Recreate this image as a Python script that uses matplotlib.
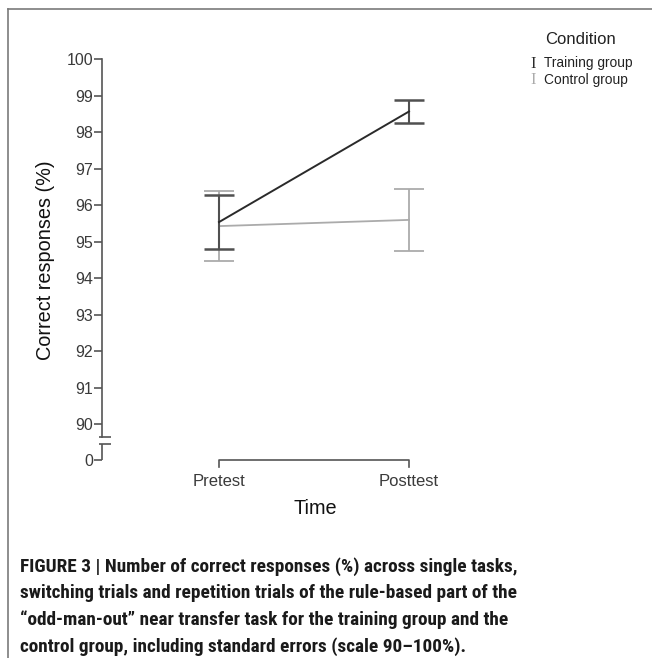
import matplotlib
matplotlib.use("Agg")
import matplotlib.pyplot as plt
from matplotlib.lines import Line2D
from matplotlib import font_manager

# ---- data ----
time_labels = ["Pretest", "Posttest"]
training_mean = [95.54, 98.57]
training_se = [0.745, 0.31]
control_mean = [95.43, 95.60]
control_se = [0.96, 0.86]
y_ticks = [90, 91, 92, 93, 94, 95, 96, 97, 98, 99, 100]
legend_labels = ["Training group", "Control group"]
caption_lines = [
    "FIGURE 3 | Number of correct responses (%) across single tasks,",
    "switching trials and repetition trials of the rule-based part of the",
    "\u201codd-man-out\u201d near transfer task for the training group and the",
    "control group, including standard errors (scale 90\u2013100%).",
]

W, H = 652, 658
DPI = 100
fig = plt.figure(figsize=(W / DPI, H / DPI), dpi=DPI)

def fx(px):
    return px / W

def fy(py):
    return 1 - py / H

# axes placement (pixel coordinates of reference)
ax_left, ax_right, ax_top, ax_bot = 102, 480, 50, 470
ax = fig.add_axes([fx(ax_left), fy(ax_bot), (ax_right - ax_left) / W, (ax_bot - ax_top) / H])
px_per_unit = 36.5
y100 = 59.3
ax.set_ylim(100 - (ax_bot - y100) / px_per_unit, 100 + (y100 - ax_top) / px_per_unit)
x_pre = 219
x_px_per = 190
ax.set_xlim(-(x_pre - ax_left) / x_px_per, (ax_right - x_pre) / x_px_per)
ax.patch.set_alpha(0)

def yval(py):
    return 100 - (py - y100) / px_per_unit

sans = ["Liberation Sans", "DejaVu Sans"]
tick_color = "#3a3a3a"
spine_color = "#555555"

# break mapping: "0" is placed just below the break
zero_pos = yval(460)
brk_hi = yval(437)
brk_lo = yval(444)

xs = list(range(len(time_labels)))
dark = "#2a2a2a"
dark_err = "#505050"
light = "#ababab"

# control group
ax.errorbar(xs, control_mean, yerr=control_se, color=light, lw=1.3,
            ecolor=light, elinewidth=1.3, capsize=10.5, capthick=1.3, zorder=2)
# training group
ax.errorbar(xs, training_mean, yerr=training_se, color=dark, lw=1.4,
            ecolor=dark_err, elinewidth=1.5, capsize=10.5, capthick=1.8, zorder=3)

# spines
for s in ["top", "right", "bottom"]:
    ax.spines[s].set_visible(False)
ax.spines["left"].set_bounds(brk_hi, 100)
ax.spines["left"].set_color(spine_color)
ax.spines["left"].set_linewidth(1.2)

ax.set_yticks(y_ticks + [zero_pos])
ax.set_yticklabels([str(t) for t in y_ticks] + ["0"])
ax.tick_params(axis="y", direction="out", length=5.5, width=1.2, color=spine_color,
               labelsize=11.5, labelcolor=tick_color, pad=1)
for lab in ax.get_yticklabels():
    lab.set_family(sans)

# lower segment of axis below the break, and break marks
ax.plot([0, 0], [zero_pos, brk_lo], transform=ax.get_yaxis_transform(),
        color=spine_color, lw=1.2, clip_on=False, solid_capstyle="butt")
ax_w_px = ax_right - ax_left
for yb in (brk_hi, brk_lo):
    ax.plot([-3 / ax_w_px, 9 / ax_w_px], [yb, yb], transform=ax.get_yaxis_transform(),
            color=spine_color, lw=1.2, clip_on=False, solid_capstyle="butt")

# x axis bracket (ticks pointing down)
ax.set_xticks(xs)
ax.set_xticklabels(time_labels)
ax.tick_params(axis="x", length=0, labelsize=12, labelcolor=tick_color, pad=3)
for lab in ax.get_xticklabels():
    lab.set_family(sans)
bracket_y = yval(460)
tick_bot = yval(467)
ax.plot([xs[0], xs[0], xs[-1], xs[-1]], [tick_bot, bracket_y, bracket_y, tick_bot],
        color=spine_color, lw=1.2, clip_on=False)

ax.set_ylabel("Correct responses (%)", fontsize=14.3, family=sans, color="#111111", labelpad=8)
fig.text(fx(315), fy(508), "Time", fontsize=14.3, family=sans, color="#111111",
         ha="center", va="center")

# legend
fig.text(fx(580), fy(40), "Condition", fontsize=12, family=sans, color="#222222",
         ha="center", va="center")
serif = ["Liberation Serif", "DejaVu Serif"]
for lbl, col, py in zip(legend_labels, [dark, light], [63, 80]):
    fig.text(fx(533), fy(py + 0.5), "I", fontsize=12, family=serif, color=col,
             ha="center", va="center")
    fig.text(fx(544), fy(py), lbl, fontsize=9.9, family=sans, color="#222222",
             ha="left", va="center")

# frame lines
fig.add_artist(Line2D([fx(8), 1], [fy(9), fy(9)], color="#7a7a7a", lw=1.2))
fig.add_artist(Line2D([fx(8), fx(8)], [fy(9), 0], color="#7a7a7a", lw=1.2))

# caption: pick a condensed family if installed, size to reference width
names = {f.name for f in font_manager.fontManager.ttflist}
cap_family = sans
for cand in ["Liberation Sans Narrow", "Arial Narrow", "Roboto Condensed",
             "Open Sans Condensed", "Noto Sans Condensed"]:
    if cand in names:
        cap_family = [cand, "DejaVu Sans"]
        break
renderer = fig.canvas.get_renderer()
probe = fig.text(0, 0, caption_lines[0], fontsize=14, family=cap_family, weight="bold")
w0 = probe.get_window_extent(renderer).width
probe.remove()
cap_size = 14 * 497.0 / w0
for i, line in enumerate(caption_lines):
    fig.text(fx(20), fy(566.5 + i * 26.8), line, fontsize=cap_size, family=cap_family,
             weight="bold", color="#1a1a1a", ha="left", va="center")

fig.savefig("out.png", dpi=DPI)
